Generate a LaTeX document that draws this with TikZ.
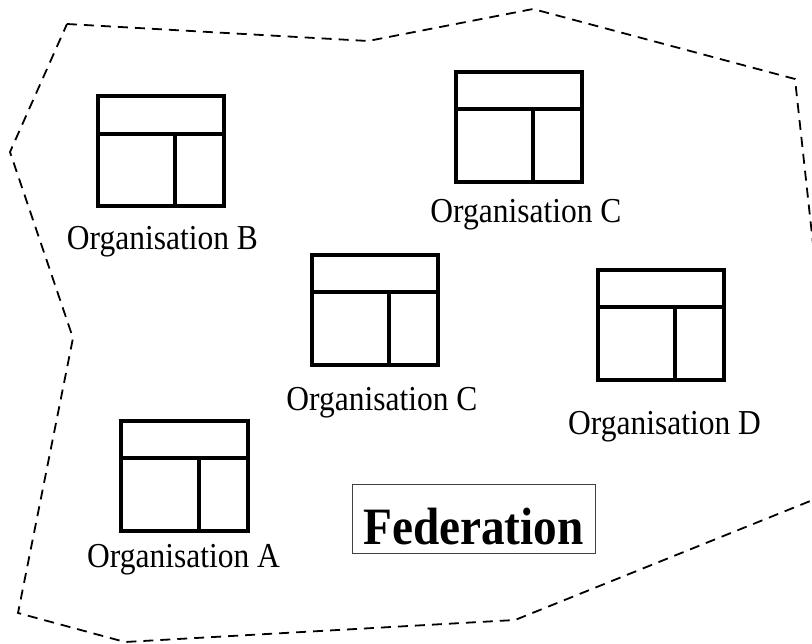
\documentclass[tikz,border=0pt]{standalone}
\usepackage{fontspec}
\usepackage{graphicx}
\setmainfont{Liberation Serif}
\tikzset{
  orgicon/.style={draw, line width=4pt, rectangle, minimum width=126.5pt, minimum height=110pt, inner sep=0pt},
  orglabel/.style={anchor=base, inner sep=0pt, font=\fontsize{35}{40}\selectfont},
  fedbox/.style={draw=black!75, line width=1pt, minimum width=243pt, minimum height=69pt, inner sep=0pt, text height=51pt, text depth=0pt, font=\fontsize{52.5}{58}\selectfont\bfseries},
  boundary/.style={line width=1.8pt, dash pattern=on 10pt off 7pt}
}
\newcommand{\orgdiv}[1]{%
  \draw[line width=4pt] ([yshift=-39.5pt]#1.north west) -- ([yshift=-39.5pt]#1.north east);
  \draw[line width=4pt] ([xshift=79.5pt,yshift=-39.5pt]#1.north west) -- ([xshift=79.5pt]#1.south west);
}
\begin{document}
\begin{tikzpicture}[x=1pt,y=-1pt]
\useasboundingbox (0,0) rectangle (812,644);
\clip (0,0) rectangle (812,644);
\draw[boundary] (67,24) -- (368,41) -- (533,9) -- (795,79) -- (830,400) -- (845,487) -- (515,620) -- (125,642) -- (18,613) -- (73,338) -- (10,152) -- cycle;

\node[orgicon] (iB) at (160.75,151.5) {};
\node[orgicon] (iC1) at (519,127) {};
\node[orgicon] (iC2) at (375,310) {};
\node[orgicon] (iD) at (661,325) {};
\node[orgicon] (iA) at (184.5,476) {};
\orgdiv{iB}
\orgdiv{iC1}
\orgdiv{iC2}
\orgdiv{iD}
\orgdiv{iA}

\node[orglabel] (lB) at (162.5,250) {\scalebox{0.9}[1]{Organisation B}};
\node[orglabel] (lC1) at (526,223) {\scalebox{0.9}[1]{Organisation C}};
\node[orglabel] (lC2) at (382,411) {\scalebox{0.9}[1]{Organisation C}};
\node[orglabel] (lD) at (664.5,435) {\scalebox{0.9}[1]{Organisation D}};
\node[orglabel] (lA) at (183.5,567) {\scalebox{0.9}[1]{Organisation A}};

\node[fedbox] (fed) at (473.5,518.5) {\scalebox{0.9}[1]{Federation}};
\end{tikzpicture}
\end{document}
